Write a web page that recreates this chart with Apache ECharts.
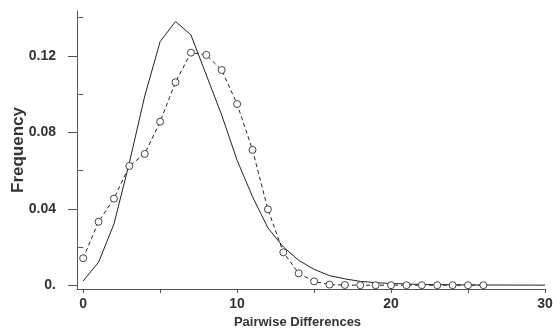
<!DOCTYPE html>
<html>
<head>
<meta charset="utf-8">
<script src="https://cdn.jsdelivr.net/npm/echarts@6/dist/echarts.min.js"></script>
<style>html,body{margin:0;padding:0;background:#fff}#c{width:553px;height:331px}</style>
</head>
<body>
<div id="c"></div>
<script>
// Pairwise differences (x)
const xsExpected = [0,1,2,3,4,5,6,7,8,9,10,11,12,13,14,15,16,17,18,19,20,21,22,23,24,25,26,27,28,29,30];
// Solid line (expected / model)
const expected = [0.0022,0.012,0.032,0.064,0.099,0.1275,0.138,0.131,0.110,0.089,0.0654,0.0463,0.030,0.020,0.013,0.0083,0.005,0.0033,0.002,0.0013,0.0009,0.0006,0.0004,0.0003,0.0002,0.00015,0.0001,0.0001,0.00005,0.00005,0.00003];
const xsObserved = [0,1,2,3,4,5,6,7,8,9,10,11,12,13,14,15,16,17,18,19,20,21,22,23,24,25,26];
// Dashed line with circles (observed)
const observed = [0.0141,0.0332,0.0453,0.0624,0.0687,0.0856,0.1062,0.1217,0.1205,0.1126,0.0948,0.0708,0.0397,0.0172,0.0062,0.0020,0.0003,0.0001,0,0,0,0,0,0,0,0,0];
const xTickLabels = [0,10,20,30];
const xTicks = [0,5,10,15,20,25,30];
const yTickLabels = [0,0.04,0.08,0.12];
const yMinorTicks = [0.02,0.06,0.10,0.14];
const xTitle = 'Pairwise Differences';
const yTitle = 'Frequency';

const chart = echarts.init(document.getElementById('c'), null, {renderer:'canvas'});
const txt = '#333';
const axisCol = '#555';
const numFont = {color: txt, fontWeight: 'bold', fontFamily: 'Liberation Sans Narrow, Arial Narrow, Liberation Sans, Arial', fontSize: 14};
const XMIN = -0.4, XMAX = 30, YMIN = -0.002, YMAX = 0.1435;
chart.setOption({
  animation: false,
  grid: {left: 77, right: 8, top: 11, bottom: 42, containLabel: false, outerBoundsMode: 'none'},
  xAxis: [{
    type: 'value', min: XMIN, max: XMAX,
    axisLine: {show: true, onZero: false, lineStyle: {color: axisCol, width: 1}},
    axisTick: {show: true, customValues: xTicks, length: 4, lineStyle: {color: axisCol}},
    axisLabel: Object.assign({customValues: xTickLabels, margin: 8, formatter: v => String(v)}, numFont),
    splitLine: {show: false},
    name: xTitle, nameLocation: 'middle', nameGap: 27, nameMoveOverlap: false,
    nameTextStyle: {color: txt, fontWeight: 'bold', fontFamily: 'Liberation Sans, Arial', fontSize: 13, padding: [0, 27, 0, 0]}
  }],
  yAxis: [{
    type: 'value', min: YMIN, max: YMAX,
    axisLine: {show: true, onZero: false, lineStyle: {color: axisCol, width: 1}},
    axisTick: {show: true, customValues: yTickLabels, length: 9, lineStyle: {color: axisCol}},
    axisLabel: Object.assign({customValues: yTickLabels, margin: 21, formatter: v => v === 0 ? '0.' : v.toFixed(2)}, numFont),
    splitLine: {show: false},
    name: yTitle, nameLocation: 'middle', nameGap: 50, nameRotate: 90, nameMoveOverlap: false,
    nameTextStyle: {color: txt, fontWeight: 'bold', fontFamily: 'Liberation Sans, Arial', fontSize: 17}
  }, {
    type: 'value', min: YMIN, max: YMAX, position: 'left',
    axisLine: {show: false},
    axisTick: {show: true, customValues: yMinorTicks, length: 5, lineStyle: {color: axisCol}},
    axisLabel: {show: false},
    splitLine: {show: false}
  }],
  series: [{
    type: 'line',
    data: xsExpected.map((x, i) => [x, expected[i]]),
    showSymbol: false, symbol: 'none',
    lineStyle: {color: '#222', width: 1},
    z: 2
  }, {
    type: 'line',
    data: xsObserved.map((x, i) => [x, observed[i]]),
    symbol: 'circle', symbolSize: 7, showSymbol: true,
    itemStyle: {color: '#fff', borderColor: '#444', borderWidth: 1},
    lineStyle: {color: '#222', width: 1, type: [4, 3]},
    z: 3
  }]
});
</script>
</body>
</html>
